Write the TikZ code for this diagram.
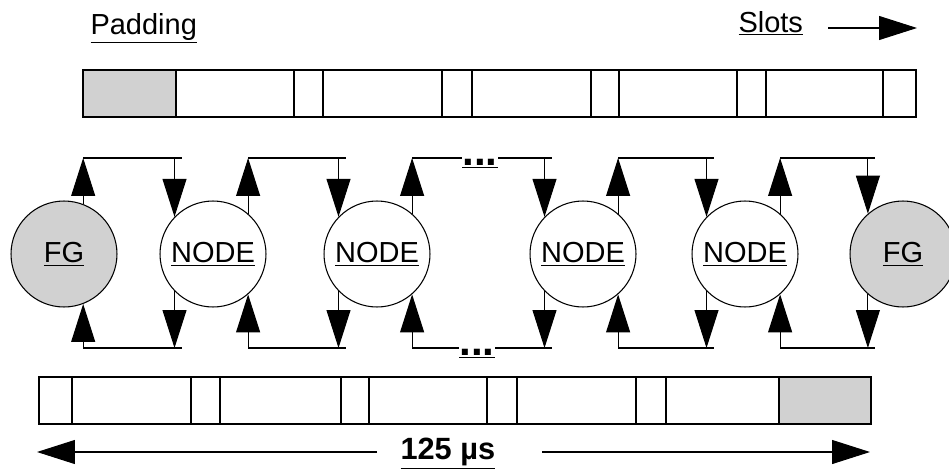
\documentclass[tikz,border=0pt]{standalone}
\usepackage{fontspec}
\setmainfont{Liberation Sans}
\usetikzlibrary{arrows.meta}

\tikzset{
  ring/.style={circle, draw, minimum size=2.12cm, inner sep=0pt,
    font=\fontsize{16.5}{20}\selectfont},
  gen/.style={ring, fill=black!18},
  flow/.style={-{Triangle[length=7.6mm, width=4.8mm]}},
  lbl/.style={inner sep=0pt, font=\fontsize{16.5}{20}\selectfont},
  gap/.style={inner sep=0pt, anchor=base, font=\fontsize{24}{24}\selectfont\bfseries},
}

\begin{document}
\begin{tikzpicture}[x=0.02cm, y=-0.02cm, line width=0.6pt]
  \useasboundingbox (0,0) rectangle (949,470);
  % levels of the two rings
  \coordinate (top) at (0,158);
  \coordinate (bot) at (0,348);

  % slot frames
  \fill[black!18] (83,70) rectangle (176,117);
  \draw (83,70) rectangle (916,117);
  \foreach \x in {176,294,323,442,472,591,619,737,766,883}
    \draw (\x,70) -- (\x,117);
  \fill[black!18] (779,377) rectangle (871,424);
  \draw (39,377) rectangle (871,424);
  \foreach \x in {72,191,220,341,369,487,517,636,666,779}
    \draw (\x,377) -- (\x,424);

  \node[lbl, anchor=base west] (padLbl) at (90,34) {\underline{Padding}};
  \node[lbl, anchor=base west] (slotLbl) at (738,32) {\underline{Slots}};
  \coordinate (slotTail) at (828,28);
  \coordinate (slotTip) at (917,28);
  \draw[flow] (slotTail) -- (slotTip);

  \node[gen]  (fgL) at (64,254)  {\underline{FG}};
  \node[ring] (n1)  at (213,254) {\underline{NODE}};
  \node[ring] (n2)  at (377,254) {\underline{NODE}};
  \node[ring] (n3)  at (583,254) {\underline{NODE}};
  \node[ring] (n4)  at (745,254) {\underline{NODE}};
  \node[gen]  (fgR) at (903,254) {\underline{FG}};

  % links: top ring runs right, bottom ring runs left
  \foreach \p/\pa/\q/\qa in {fgL/69/n1/136, n1/49/n2/136, n3/49/n4/136, n4/49/fgR/131} {
    \draw[flow] (\p.\pa) -- (\p.\pa |- top);
    \draw (\p.\pa |- top) -- (\q.\qa |- top) -- ++(7,0);
    \draw[flow] (\q.\qa |- top) -- (\q.\qa);
    \draw[flow] (\q.-\qa) -- (\q.-\qa |- bot);
    \draw (\p.-\pa |- bot) -- (\q.-\qa |- bot) -- ++(7,0);
    \draw[flow] (\p.-\pa |- bot) -- (\p.-\pa);
  }

  % break between n2 and n3
  \node[gap] (gapT) at (480,165) {\underline{...}};
  \node[gap] (gapB) at (477,355) {\underline{...}};
  \draw[flow] (n2.49) -- (n2.49 |- top);
  \draw (n2.49 |- top) -- (gapT.west |- top);
  \draw (gapT.east |- top) -- (n3.136 |- top) -- ++(7,0);
  \draw[flow] (n3.136 |- top) -- (n3.136);
  \draw[flow] (n3.-136) -- (n3.-136 |- bot);
  \draw (gapB.east |- bot) -- (n3.-136 |- bot) -- ++(7,0);
  \draw (n2.-49 |- bot) -- (gapB.west |- bot);
  \draw[flow] (n2.-49 |- bot) -- (n2.-49);

  % frame period
  \node[lbl, anchor=base west, font=\fontsize{17.5}{20}\selectfont\bfseries]
    (period) at (400,459) {\underline{125 µs}};
  \coordinate (pLTail) at (377,452);
  \coordinate (pLTip) at (37,452);
  \coordinate (pRTail) at (542,452);
  \coordinate (pRTip) at (870,452);
  \draw[flow] (pLTail) -- (pLTip);
  \draw[flow] (pRTail) -- (pRTip);
\end{tikzpicture}
\end{document}
